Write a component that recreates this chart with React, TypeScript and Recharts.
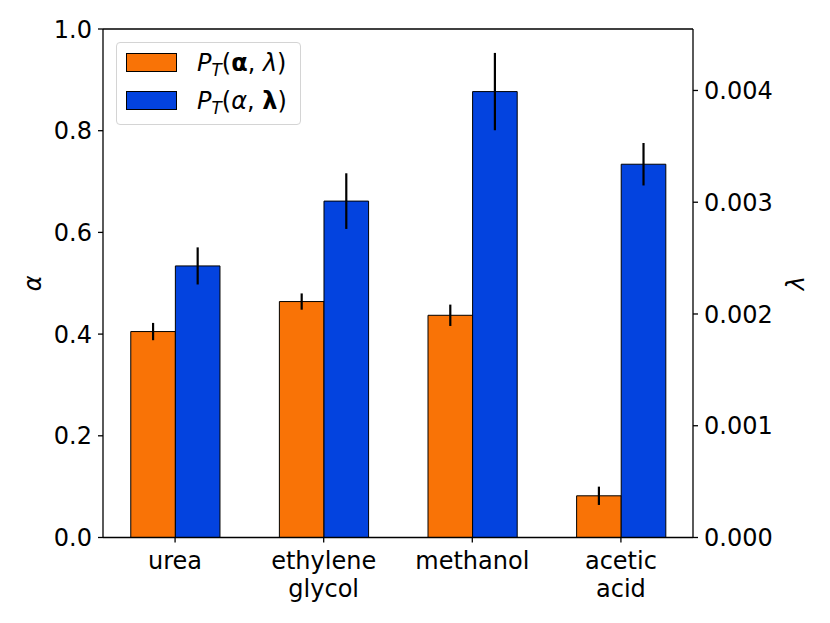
import React from 'react';
import { BarChart, Bar, XAxis, YAxis, ErrorBar, Legend, ReferenceLine } from 'recharts';

// solvent categories (\n marks a line break in the tick label)
const solvents = ['urea', 'ethylene\nglycol', 'methanol', 'acetic\nacid'];

// alpha (left axis) means and std errors
const alphaMeans = [0.405, 0.464, 0.437, 0.082];
const alphaErrs = [0.017, 0.016, 0.021, 0.018];

// lambda (right axis) means and std errors
const lambdaMeans = [0.00243, 0.00301, 0.00399, 0.00334];
const lambdaErrs = [0.000166, 0.000249, 0.000346, 0.00019];

const alphaTicks = [0, 0.2, 0.4, 0.6, 0.8, 1.0];
const lambdaTicks = [0, 0.001, 0.002, 0.003, 0.004];

const data = solvents.map((name, i) => ({
    pos: i,
    name,
    alpha: alphaMeans[i],
    alphaErr: alphaErrs[i],
    lambda: lambdaMeans[i],
    lambdaErr: lambdaErrs[i],
}));

const FONT = '"DejaVu Sans", sans-serif';
const FS = 24;
const ORANGE = '#f97306';
const BLUE = '#0343df';

function SolventTick(props: any) {
    const { x, y, payload } = props;
    const lines = (solvents[payload.value] || '').split('\n');
    return (
        <text x={x} y={y} textAnchor="middle" fontFamily={FONT} fontSize={FS} fill="#000">
            {lines.map((l, k) => (
                <tspan key={k} x={x} dy={k === 0 ? 26.5 : 27.5}>{l}</tspan>
            ))}
        </text>
    );
}

function Swatch({ color }: { color: string }) {
    return (
        <span style={{
            display: 'inline-block', width: 51, height: 19, background: color,
            border: '1px solid #000', boxSizing: 'border-box', marginRight: 20,
        }} />
    );
}

const sub = { fontStyle: 'italic', fontSize: '0.7em', position: 'relative' as const, top: '0.3em' };

function LegendBox() {
    const row = { position: 'absolute' as const, left: 9, display: 'flex', alignItems: 'center', height: 19, whiteSpace: 'nowrap' as const };
    return (
        <div style={{
            position: 'relative', width: 185, height: 83, boxSizing: 'border-box',
            border: '1px solid #d4d4d4', borderRadius: 4, background: 'rgba(255,255,255,0.8)',
            fontFamily: FONT, fontSize: FS, color: '#000', lineHeight: 1,
        }}>
            <div style={{ ...row, top: 10 }}>
                <Swatch color={ORANGE} />
                <span><i>P</i><span style={sub}>T</span>(<b>α</b>, <i>λ</i>)</span>
            </div>
            <div style={{ ...row, top: 48 }}>
                <Swatch color={BLUE} />
                <span><i>P</i><span style={sub}>T</span>(<i>α</i>, <b>λ</b>)</span>
            </div>
        </div>
    );
}

const axisStroke = { stroke: '#000', strokeWidth: 1.3 };
const tickText = { fill: '#000', fontSize: FS, fontFamily: FONT };

export default function App() {
    return (
        <BarChart
            width={822}
            height={615}
            data={data}
            barGap={0}
            margin={{ top: 21, right: 0, bottom: 0, left: 0 }}
        >
            <XAxis
                type="number"
                dataKey="pos"
                domain={[-0.485, 3.485]}
                ticks={[0, 1, 2, 3]}
                interval={0}
                height={85.5}
                tick={<SolventTick />}
                tickSize={5}
                tickMargin={0}
                axisLine={axisStroke}
                tickLine={axisStroke}
            />
            <YAxis
                yAxisId="alpha"
                orientation="left"
                width={95}
                domain={[0, 1]}
                ticks={alphaTicks}
                tickFormatter={(v: number) => v.toFixed(1)}
                tick={tickText}
                tickSize={5}
                tickMargin={6}
                axisLine={axisStroke}
                tickLine={axisStroke}
                label={{ value: 'α', angle: -90, position: 'center', dx: -23, fill: '#000', fontSize: FS, fontFamily: FONT, fontStyle: 'italic' }}
            />
            <YAxis
                yAxisId="lambda"
                orientation="right"
                width={137}
                domain={[0, 0.00455]}
                ticks={lambdaTicks}
                tickFormatter={(v: number) => v.toFixed(3)}
                tick={tickText}
                tickSize={5}
                tickMargin={6}
                axisLine={axisStroke}
                tickLine={axisStroke}
                label={{ value: 'λ', angle: -90, position: 'center', dx: 33.5, fill: '#000', fontSize: FS, fontFamily: FONT, fontStyle: 'italic' }}
            />
            <ReferenceLine yAxisId="alpha" y={1} stroke="#000" strokeWidth={1.3} />
            <Legend
                layout="horizontal"
                verticalAlign="middle"
                align="center"
                wrapperStyle={{ left: 108, top: 34, width: 'auto', height: 'auto' }}
                content={() => <LegendBox />}
            />
            <Bar
                yAxisId="alpha"
                dataKey="alpha"
                name="P_T(α, λ)"
                barSize={44.6}
                fill={ORANGE}
                stroke="#000"
                strokeWidth={1}
                isAnimationActive={false}
            >
                <ErrorBar dataKey="alphaErr" direction="y" width={0} stroke="#000" strokeWidth={2.2} />
            </Bar>
            <Bar
                yAxisId="lambda"
                dataKey="lambda"
                name="P_T(α, λ)"
                barSize={44.6}
                fill={BLUE}
                stroke="#000"
                strokeWidth={1}
                isAnimationActive={false}
            >
                <ErrorBar dataKey="lambdaErr" direction="y" width={0} stroke="#000" strokeWidth={2.2} />
            </Bar>
        </BarChart>
    );
}
